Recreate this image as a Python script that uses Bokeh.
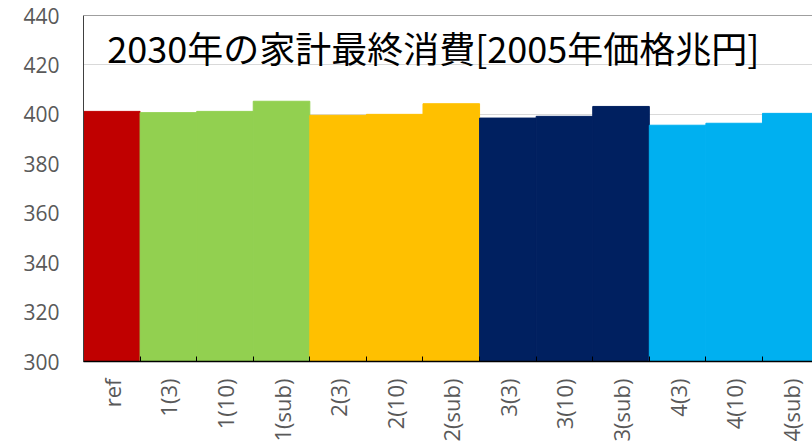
import math
from bokeh.plotting import figure
from bokeh.models import Range1d, FixedTicker, Span, Label, ColumnDataSource
from bokeh.embed import file_html
from bokeh.resources import INLINE

# ---- data ----
categories = ["ref", "1(3)", "1(10)", "1(sub)", "2(3)", "2(10)", "2(sub)",
              "3(3)", "3(10)", "3(sub)", "4(3)", "4(10)", "4(sub)"]
consumption = [401.2, 400.7, 401.2, 405.3, 399.6, 400.0, 404.3,
               398.5, 399.2, 403.2, 395.6, 396.4, 400.4]
y_ticks = [300, 320, 340, 360, 380, 400, 420, 440]
title_text = "2030年の家計最終消費[2005年価格兆円]"

# ---- styles ----
group_colors = {"ref": "#C00000", "1": "#92D050", "2": "#FFC000",
                "3": "#002060", "4": "#00B0F0"}
colors = [group_colors[c.split("(")[0]] for c in categories]
positions = list(range(len(categories)))

src = ColumnDataSource(dict(x=positions, top=consumption, color=colors))

p = figure(width=812, height=444, output_backend="svg", toolbar_location=None,
           x_range=Range1d(-0.5, 12.384), y_range=Range1d(y_ticks[0], y_ticks[-1]),
           min_border_left=83, min_border_right=0, min_border_top=15,
           min_border_bottom=81)
p.background_fill_color = "white"
p.border_fill_color = "white"
p.outline_line_color = None

p.vbar(x="x", top="top", bottom=y_ticks[0], width=1.0, source=src,
       fill_color="color", line_color="color", line_width=1)

# y axis
p.yaxis.ticker = FixedTicker(ticks=y_ticks)
p.yaxis.major_tick_in = 0
p.yaxis.major_tick_out = 0
p.yaxis.minor_tick_line_color = None
p.yaxis.axis_line_color = "#404040"
p.yaxis.major_label_standoff = 24
p.yaxis.major_label_text_font = "Open Sans"
p.yaxis.major_label_text_font_size = "21px"
p.yaxis.major_label_text_color = "#595959"

p.ygrid.ticker = FixedTicker(ticks=y_ticks)
p.ygrid.grid_line_color = "#D9D9D9"
p.xgrid.grid_line_color = None

# x axis
p.xaxis.ticker = FixedTicker(ticks=positions,
                             minor_ticks=[i - 0.5 for i in positions] + [positions[-1] + 0.5])
p.xaxis.major_label_overrides = {i: c for i, c in zip(positions, categories)}
p.xaxis.major_label_orientation = math.pi / 2
p.xaxis.major_tick_in = 0
p.xaxis.major_tick_out = 0
p.xaxis.minor_tick_in = 5
p.xaxis.minor_tick_out = 0
p.xaxis.minor_tick_line_color = "black"
p.xaxis.axis_line_color = "black"
p.xaxis.axis_line_width = 1.5
p.xaxis.major_label_standoff = 17
p.xaxis.major_label_text_font = "Open Sans"
p.xaxis.major_label_text_font_size = "22px"
p.xaxis.major_label_text_color = "#595959"

# top border
p.add_layout(Span(location=y_ticks[-1], dimension="width", line_color="#404040", line_width=1))

# title inside plot
p.add_layout(Label(x=-0.08, y=427.3, text=title_text, text_font="Noto Sans CJK JP",
                   text_font_size="36px", text_baseline="middle", text_color="black"))

open("out.html", "w").write(file_html(p, INLINE))
